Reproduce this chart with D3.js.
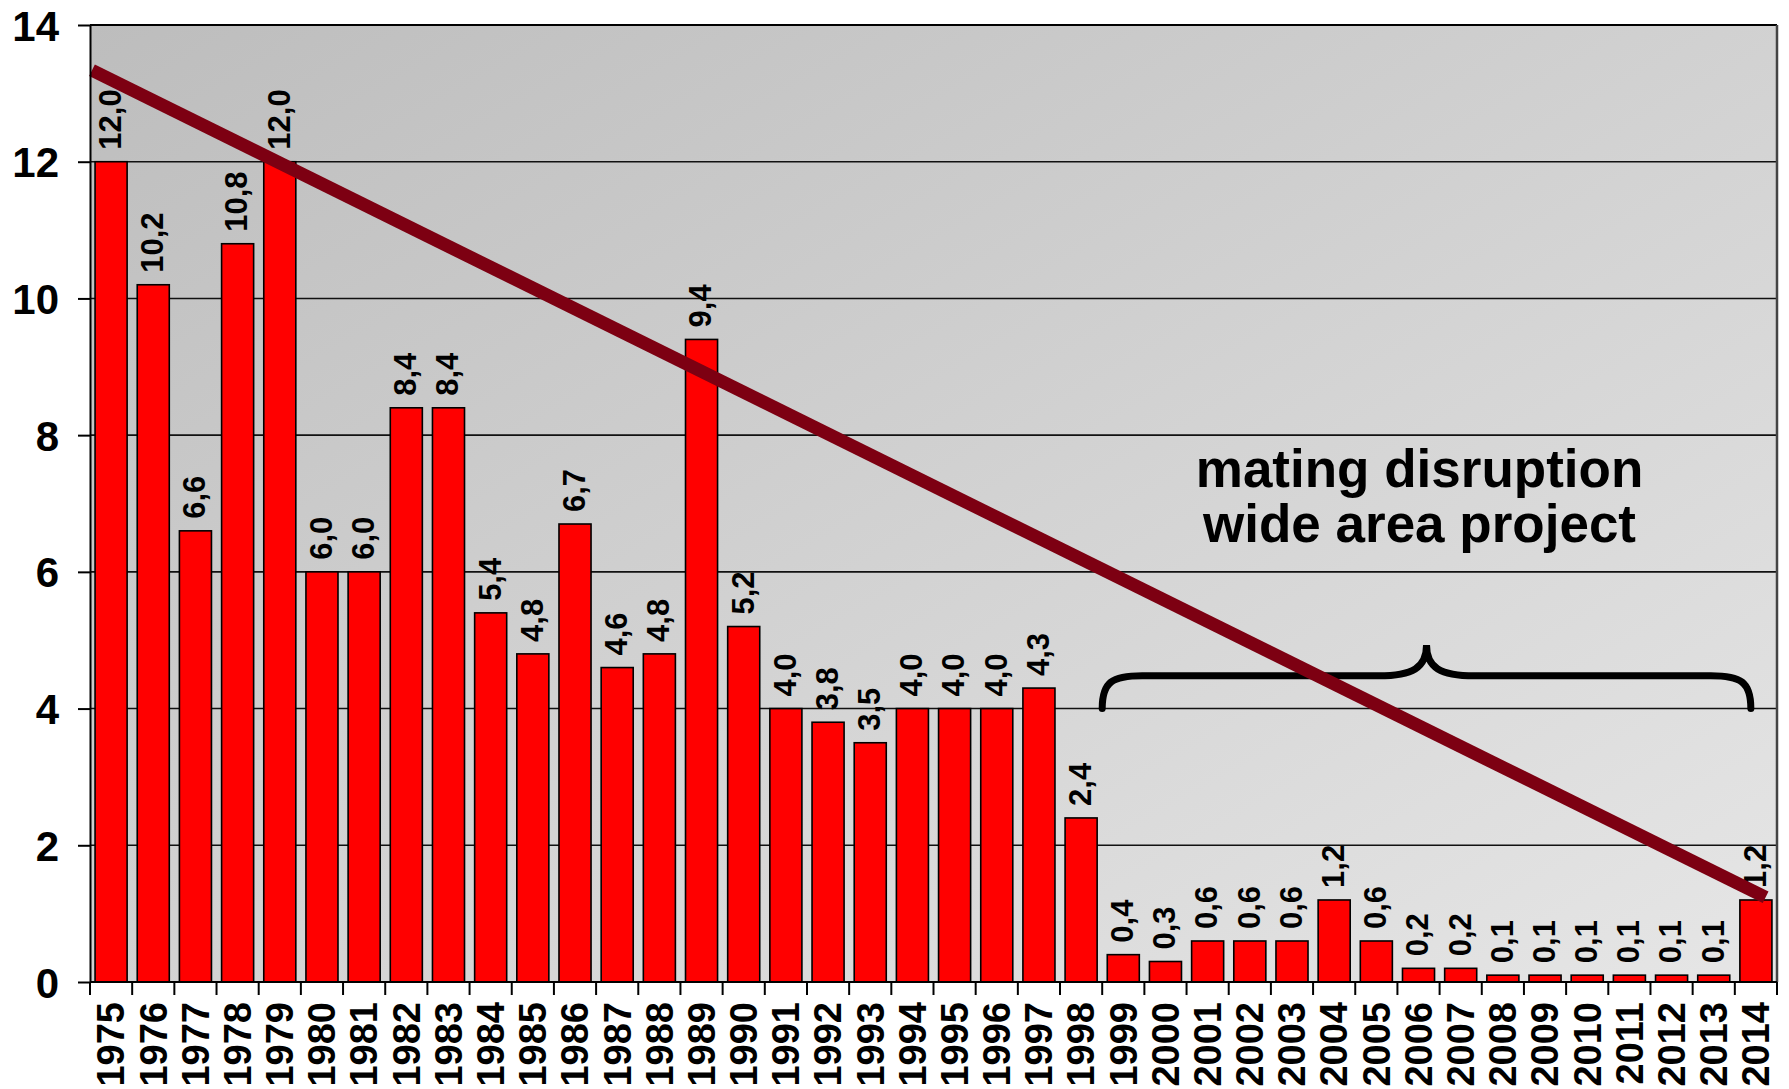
<!DOCTYPE html>
<html lang="en">
<head>
<meta charset="UTF-8">
<title>Mating disruption chart</title>
<script src="https://cdn.jsdelivr.net/npm/d3@7"></script>
<style>
  html, body { margin: 0; padding: 0; background: #fff; }
  svg { display: block; }
  text { font-family: "Liberation Sans", Arial, sans-serif; font-weight: bold; fill: #000; }
</style>
</head>
<body>
<div class="d3"></div>
<script>
// data
const years = [1975, 1976, 1977, 1978, 1979, 1980, 1981, 1982, 1983, 1984,
               1985, 1986, 1987, 1988, 1989, 1990, 1991, 1992, 1993, 1994,
               1995, 1996, 1997, 1998, 1999, 2000, 2001, 2002, 2003, 2004,
               2005, 2006, 2007, 2008, 2009, 2010, 2011, 2012, 2013, 2014]
const values = [12.0, 10.2, 6.6, 10.8, 12.0, 6.0, 6.0, 8.4, 8.4, 5.4,
                4.8, 6.7, 4.6, 4.8, 9.4, 5.2, 4.0, 3.8, 3.5, 4.0,
                4.0, 4.0, 4.3, 2.4, 0.4, 0.3, 0.6, 0.6, 0.6, 1.2,
                0.6, 0.2, 0.2, 0.1, 0.1, 0.1, 0.1, 0.1, 0.1, 1.2]
const yTicks = [0, 2, 4, 6, 8, 10, 12, 14]
const trendYears = [1975, 2014]
const trendValues = [13.2, 1.31]
const braceYears = [1999, 2014]
const braceLevels = [4.0, 4.48, 4.93]   // base, bar, peak
const noteLines = ['mating disruption', 'wide area project']
const noteValues = [7.24, 6.43]

function visualize() {
   const WIDTH = 1789
   const HEIGHT = 1089
   const LEFT = 90, RIGHT = 1777, TOP = 25, BOTTOM = 982

   const svg = d3.select('.d3').append('svg')
      .attr('width', WIDTH)
      .attr('height', HEIGHT)

   const x = d3.scaleBand()
      .domain(years)
      .range([LEFT, RIGHT])
      .paddingInner(0.24)
      .paddingOuter(0.12)
   const step = x.step()
   const center = d => x(d) + x.bandwidth() / 2
   const edge = d => x(d) - step * 0.12

   const y = d3.scaleLinear()
      .domain([0, 14])
      .range([BOTTOM, TOP])

   // background gradient
   const grad = svg.append('defs').append('linearGradient')
      .attr('id', 'bg')
      .attr('x1', 0).attr('y1', 0).attr('x2', 1).attr('y2', 1)
   grad.append('stop').attr('offset', '0%').attr('stop-color', '#bdbdbd')
   grad.append('stop').attr('offset', '100%').attr('stop-color', '#e6e6e6')

   svg.append('rect')
      .attr('x', LEFT).attr('y', TOP)
      .attr('width', RIGHT - LEFT).attr('height', BOTTOM - TOP)
      .attr('fill', 'url(#bg)')

   // gridlines
   svg.append('g')
      .selectAll('line')
      .data(yTicks.filter(t => t > 0))
      .join('line')
      .attr('x1', LEFT).attr('x2', RIGHT)
      .attr('y1', d => y(d)).attr('y2', d => y(d))
      .attr('stroke', '#111')
      .attr('stroke-width', 1.6)

   // bars
   svg.append('g')
      .selectAll('rect')
      .data(years)
      .join('rect')
      .attr('x', d => x(d))
      .attr('y', (d, i) => y(values[i]))
      .attr('width', x.bandwidth())
      .attr('height', (d, i) => y(0) - y(values[i]))
      .attr('fill', '#ff0000')
      .attr('stroke', '#000')
      .attr('stroke-width', 1.6)

   // value labels
   const fmt = v => d3.format('.1f')(v).replace('.', ',')
   svg.append('g')
      .selectAll('text')
      .data(years)
      .join('text')
      .attr('transform', (d, i) => `translate(${center(d) - 1}, ${y(values[i]) - 12}) rotate(-90)`)
      .attr('dy', '0.35em')
      .attr('font-size', 31)
      .text((d, i) => fmt(values[i]))

   // brace
   const xL = edge(braceYears[0])
   const xR = edge(braceYears[1]) + step * 0.38
   const xM = (xL + xR) / 2
   const yB = y(braceLevels[0]), yH = y(braceLevels[1]), yT = y(braceLevels[2])
   const brace = d3.path()
   brace.moveTo(xL, yB)
   brace.bezierCurveTo(xL, yH + 6, xL + 10, yH, xL + 40, yH)
   brace.lineTo(xM - 48, yH)
   brace.bezierCurveTo(xM - 14, yH, xM, yH - 8, xM, yT)
   brace.bezierCurveTo(xM, yH - 8, xM + 14, yH, xM + 48, yH)
   brace.lineTo(xR - 40, yH)
   brace.bezierCurveTo(xR - 10, yH, xR, yH + 6, xR, yB)
   svg.append('path')
      .attr('d', brace.toString())
      .attr('fill', 'none')
      .attr('stroke', '#000')
      .attr('stroke-width', 7)
      .attr('stroke-linecap', 'round')

   // annotation
   svg.append('g')
      .selectAll('text')
      .data(noteLines)
      .join('text')
      .attr('x', xM - 7)
      .attr('y', (d, i) => y(noteValues[i]))
      .attr('text-anchor', 'middle')
      .attr('font-size', 53)
      .text(d => d)

   // trend line
   const tx0 = center(trendYears[0]), tx1 = center(trendYears[1])
   const ty0 = y(trendValues[0]), ty1 = y(trendValues[1])
   const slope = (ty1 - ty0) / (tx1 - tx0)
   const ax = LEFT + 2, bx = tx1 + step * 0.23
   svg.append('line')
      .attr('x1', ax).attr('y1', ty0 + (ax - tx0) * slope)
      .attr('x2', bx).attr('y2', ty0 + (bx - tx0) * slope)
      .attr('stroke', '#7d0012')
      .attr('stroke-width', 13)

   // frame
   svg.append('line')
      .attr('x1', LEFT).attr('x2', RIGHT).attr('y1', TOP).attr('y2', TOP)
      .attr('stroke', '#000').attr('stroke-width', 2)
   svg.append('line')
      .attr('x1', RIGHT).attr('x2', RIGHT).attr('y1', TOP).attr('y2', BOTTOM)
      .attr('stroke', '#444').attr('stroke-width', 2.5)

   // y axis
   const yAxis = svg.append('g')
      .attr('transform', `translate(${LEFT}, 0)`)
      .call(d3.axisLeft(y).tickValues(yTicks).tickSize(12).tickPadding(19).tickSizeOuter(0))
   yAxis.select('.domain').attr('stroke', '#000').attr('stroke-width', 2)
   yAxis.selectAll('.tick line').attr('stroke', '#000').attr('stroke-width', 2)
   yAxis.selectAll('.tick text')
      .attr('font-size', 42)
      .attr('font-family', '"Liberation Sans", Arial, sans-serif')
      .attr('font-weight', 'bold')
      .attr('dy', '0.36em')

   // x axis
   svg.append('line')
      .attr('x1', LEFT).attr('x2', RIGHT).attr('y1', BOTTOM).attr('y2', BOTTOM)
      .attr('stroke', '#000').attr('stroke-width', 2)
   svg.append('g')
      .selectAll('line')
      .data(years.map(edge).concat([RIGHT]))
      .join('line')
      .attr('x1', d => d).attr('x2', d => d)
      .attr('y1', BOTTOM).attr('y2', BOTTOM + 13)
      .attr('stroke', '#000')
      .attr('stroke-width', 2)
   svg.append('g')
      .selectAll('text')
      .data(years)
      .join('text')
      .attr('transform', d => `translate(${center(d)}, ${BOTTOM + 20}) rotate(-90)`)
      .attr('dy', '0.35em')
      .attr('text-anchor', 'end')
      .attr('font-size', 38)
      .text(d => d)
}

visualize()
</script>
</body>
</html>
